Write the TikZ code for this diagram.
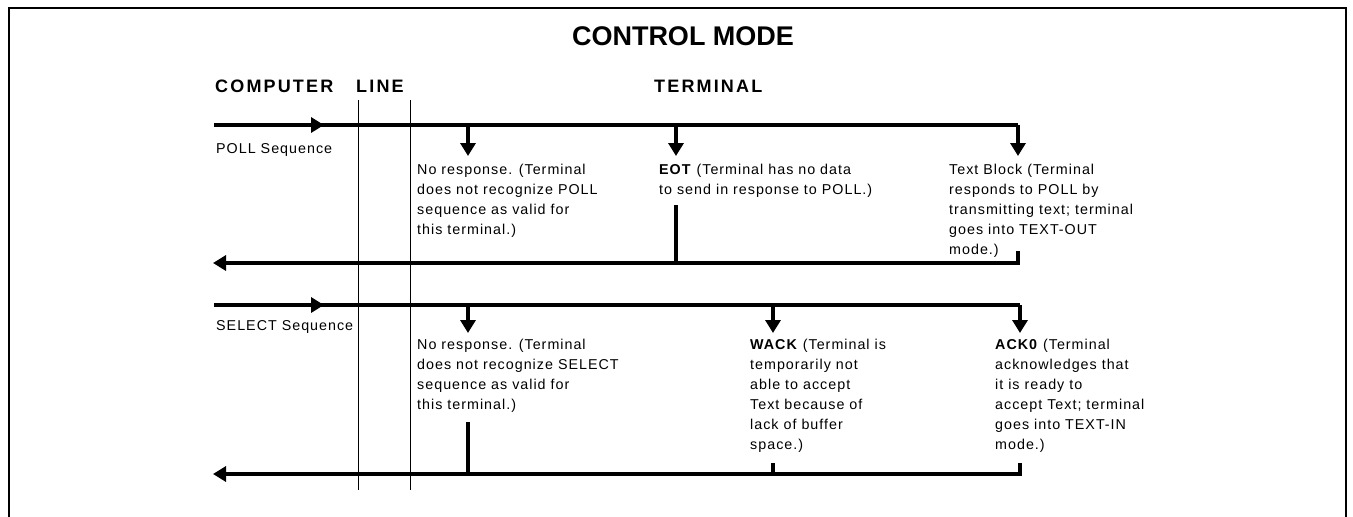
\documentclass[tikz,border=0pt]{standalone}
\usepackage{fontspec}
\setmainfont{Liberation Sans}
\newfontfamily\bodyfont{Liberation Sans}[LetterSpace=7]
\newfontfamily\headfont{Liberation Sans}[LetterSpace=12]
\usetikzlibrary{arrows.meta}
\begin{document}
\begin{tikzpicture}[x=1pt,y=-1pt,
  thickline/.style={line width=3.4pt},
  tipped/.style={thickline,-{Triangle[width=15pt,length=13pt]}},
  desc/.style={anchor=north west,inner sep=0pt,align=left,
    font=\fontsize{14.3}{20}\bodyfont},
  seq/.style={anchor=base west,inner sep=0pt,font=\fontsize{14.3}{20}\bodyfont},
  head/.style={anchor=base west,inner sep=0pt,font=\fontsize{18}{20}\headfont\bfseries},
  colline/.style={line width=0.8pt}]
\useasboundingbox (0,0) rectangle (1353,517);
% frame
\draw[line width=1.5pt] (9,517) -- (9,8) -- (1346,8) -- (1346,517);
% headings
\node[anchor=base,inner sep=0pt,font=\fontsize{27}{30}\selectfont\bfseries] (title) at (683,45) {CONTROL MODE};
\node[head] (comp) at (215,92) {COMPUTER};
\node[head] (line) at (356,92) {LINE};
\node[head] (term) at (654,92) {TERMINAL};
% line column
\coordinate (c1t) at (358,100); \coordinate (c1b) at (358,490);
\coordinate (c2t) at (410,100); \coordinate (c2b) at (410,490);
\draw[colline] (c1t) -- (c1b);
\draw[colline] (c2t) -- (c2b);

% ---------- POLL ----------
\node[seq] (pollseq) at (216,153) {POLL Sequence};
\coordinate (pf0) at (214,125);
\coordinate (pfm) at (324,125);
\coordinate (pa1) at (468,125);
\coordinate (pa2) at (676,125);
\coordinate (pf1) at (1018,125);
\node[desc] (p1) at (417,164) {No response. (Terminal\\does not recognize POLL\\sequence as valid for\\this terminal.)};
\node[desc] (p2) at (659,164) {\textbf{EOT} (Terminal has no data\\to send in response to POLL.)};
\node[desc] (p3) at (949,164) {Text Block (Terminal\\responds to POLL by\\transmitting text; terminal\\goes into TEXT-OUT\\mode.)};
\coordinate (pa1e) at (468,156);
\coordinate (pa2e) at (676,156);
\coordinate (pa3e) at (1018,156);
\draw[thickline] (pf0) -- (pf1);
\draw[tipped] (pf0) -- (pfm);
\draw[tipped] (pa1) -- (pa1e);
\draw[tipped] (pa2) -- (pa2e);
\draw[tipped] (pf1) -- (pa3e);
% POLL return
\coordinate (pr0) at (213,263);
\coordinate (pr2) at (676,263);
\coordinate (pr3) at (1018,263);
\coordinate (p2s) at (676,205);
\coordinate (p3s) at (1018,251);
\draw[tipped] (p3s) -- (pr3) -- (pr0);
\draw[thickline] (p2s) -- (pr2);

% ---------- SELECT ----------
\node[seq] (selseq) at (216,330) {SELECT Sequence};
\coordinate (sf0) at (214,305);
\coordinate (sfm) at (324,305);
\coordinate (sa1) at (468,305);
\coordinate (sa2) at (773,305);
\coordinate (sf1) at (1020,305);
\node[desc] (s1) at (417,339) {No response. (Terminal\\does not recognize SELECT\\sequence as valid for\\this terminal.)};
\node[desc] (s2) at (750,339) {\textbf{WACK} (Terminal is\\temporarily not\\able to accept\\Text because of\\lack of buffer\\space.)};
\node[desc] (s3) at (995,339) {\textbf{ACK0} (Terminal\\acknowledges that\\it is ready to\\accept Text; terminal\\goes into TEXT-IN\\mode.)};
\coordinate (sa1e) at (468,333);
\coordinate (sa2e) at (773,333);
\coordinate (sa3e) at (1020,333);
\draw[thickline] (sf0) -- (sf1);
\draw[tipped] (sf0) -- (sfm);
\draw[tipped] (sa1) -- (sa1e);
\draw[tipped] (sa2) -- (sa2e);
\draw[tipped] (sf1) -- (sa3e);
% SELECT return
\coordinate (sr0) at (213,474);
\coordinate (sr1) at (468,474);
\coordinate (sr2) at (773,474);
\coordinate (sr3) at (1020,474);
\coordinate (s1s) at (468,422);
\coordinate (s2s) at (773,463);
\coordinate (s3s) at (1020,463);
\draw[tipped] (s3s) -- (sr3) -- (sr0);
\draw[thickline] (s1s) -- (sr1);
\draw[thickline] (s2s) -- (sr2);
\end{tikzpicture}
\end{document}
